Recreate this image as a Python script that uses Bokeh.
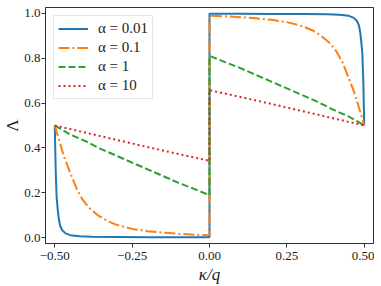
from bokeh.plotting import figure
from bokeh.models import Range1d, FixedTicker, Legend, LegendItem
from bokeh.embed import file_html
from bokeh.resources import INLINE

# alpha labels
alpha_labels = ["α = 0.01", "α = 0.1", "α = 1", "α = 10"]

# alpha = 0.01
kappa_a001 = [-0.5, -0.497, -0.494, -0.49, -0.487, -0.483, -0.476, -0.465, -0.45, -0.42, -0.38, -0.3, -0.2, -0.1, 0.0,
              0.0, 0.1, 0.2, 0.3, 0.38, 0.42, 0.45, 0.465, 0.476, 0.483, 0.487, 0.49, 0.494, 0.497, 0.5]
lam_a001 = [0.5, 0.3, 0.18, 0.12, 0.085, 0.055, 0.034, 0.02, 0.012, 0.007, 0.005, 0.004, 0.003, 0.003, 0.003,
            0.997, 0.997, 0.996, 0.996, 0.995, 0.993, 0.988, 0.98, 0.966, 0.945, 0.915, 0.88, 0.82, 0.7, 0.5]

# alpha = 0.1
kappa_a01 = [-0.5, -0.485, -0.47, -0.45, -0.43, -0.41, -0.39, -0.36, -0.33, -0.3, -0.25, -0.2, -0.15, -0.1, -0.05, 0.0,
             0.0, 0.05, 0.1, 0.15, 0.2, 0.25, 0.3, 0.33, 0.36, 0.39, 0.41, 0.43, 0.45, 0.47, 0.485, 0.5]
lam_a01 = [0.5, 0.43, 0.36, 0.29, 0.22, 0.17, 0.135, 0.1, 0.075, 0.058, 0.04, 0.03, 0.023, 0.018, 0.014, 0.012,
           0.988, 0.986, 0.982, 0.977, 0.97, 0.96, 0.942, 0.925, 0.9, 0.865, 0.83, 0.78, 0.71, 0.64, 0.57, 0.5]

# alpha = 1
kappa_a1 = [-0.5, -0.45, -0.4, -0.35, -0.3, -0.25, -0.2, -0.15, -0.1, -0.05, 0.0,
            0.0, 0.05, 0.1, 0.15, 0.2, 0.25, 0.3, 0.35, 0.4, 0.45, 0.5]
lam_a1 = [0.5, 0.46, 0.43, 0.395, 0.365, 0.335, 0.305, 0.275, 0.245, 0.218, 0.19,
          0.81, 0.782, 0.755, 0.725, 0.695, 0.665, 0.635, 0.605, 0.57, 0.54, 0.5]

# alpha = 10
kappa_a10 = [-0.5, -0.4, -0.3, -0.2, -0.1, 0.0, 0.0, 0.1, 0.2, 0.3, 0.4, 0.5]
lam_a10 = [0.5, 0.468, 0.436, 0.404, 0.373, 0.343, 0.657, 0.627, 0.596, 0.564, 0.532, 0.5]

x_ticks = [-0.5, -0.25, 0.0, 0.25, 0.5]
x_tick_labels = ["−0.50", "−0.25", "0.00", "0.25", "0.50"]
y_ticks = [0.0, 0.2, 0.4, 0.6, 0.8, 1.0]
y_tick_labels = ["0.0", "0.2", "0.4", "0.6", "0.8", "1.0"]

series = [(kappa_a001, lam_a001), (kappa_a01, lam_a01), (kappa_a1, lam_a1), (kappa_a10, lam_a10)]
colors = ["#1f77b4", "#ff7f0e", "#2ca02c", "#d62728"]
dashes = ["solid", "11 3 2 3", "7 3", "2 3"]

FONT = "Times New Roman"

p = figure(frame_width=328, frame_height=236, output_backend="svg", toolbar_location=None,
           x_range=Range1d(-0.53, 0.53), y_range=Range1d(-0.025, 1.025),
           min_border_left=0, min_border_right=1, min_border_top=7, min_border_bottom=0)
p.background_fill_color = "white"
p.border_fill_color = "white"
p.outline_line_color = "#333333"
p.outline_line_width = 1
p.xgrid.visible = False
p.ygrid.visible = False

items = []
for (kx, ly), c, d, lab in zip(series, colors, dashes, alpha_labels):
    r = p.line(kx, ly, line_color=c, line_width=2, line_dash=d)
    items.append(LegendItem(label=lab, renderers=[r]))

for ax, ticks, labels in [(p.xaxis[0], x_ticks, x_tick_labels), (p.yaxis[0], y_ticks, y_tick_labels)]:
    ax.ticker = FixedTicker(ticks=ticks)
    ax.major_label_overrides = {t: l for t, l in zip(ticks, labels)}
    ax.minor_tick_line_color = None
    ax.major_tick_in = 0
    ax.major_tick_out = 4
    ax.major_tick_line_color = "#333333"
    ax.axis_line_color = "#333333"
    ax.major_label_text_font = FONT
    ax.major_label_text_font_size = "13px"
    ax.major_label_text_color = "#222222"
    ax.axis_label_text_font = FONT
    ax.axis_label_text_font_size = "17px"
    ax.axis_label_text_color = "#222222"

p.xaxis.axis_label = "κ/q"
p.xaxis.axis_label_text_font_style = "italic"
p.xaxis.major_label_standoff = 4
p.xaxis.axis_label_standoff = 2
p.yaxis.axis_label = "Λ"
p.yaxis.axis_label_text_font_style = "normal"
p.yaxis.major_label_standoff = 1
p.yaxis.axis_label_standoff = -1

legend = Legend(items=items, location="top_left", margin=8, padding=4, spacing=2,
                label_height=17, glyph_height=17, glyph_width=30, label_standoff=10,
                label_text_font=FONT, label_text_font_size="15px", label_text_color="#222222",
                border_line_color="#cccccc", border_line_width=1,
                background_fill_color="white", background_fill_alpha=0.8)
p.add_layout(legend)

open("out.html", "w").write(file_html(p, INLINE))
